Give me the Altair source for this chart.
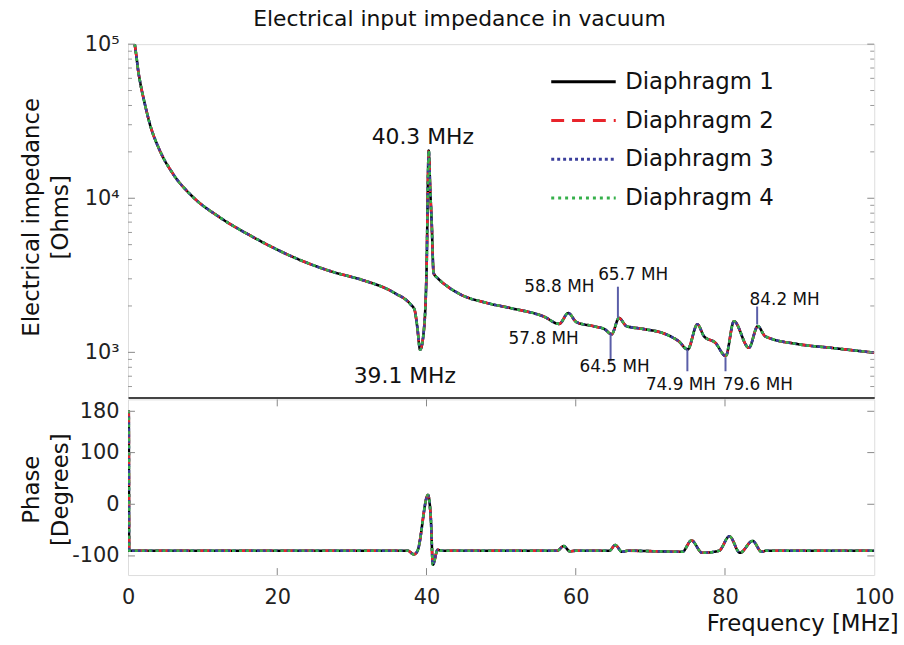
import altair as alt
import pandas as pd

# ---------------- data ----------------
series = ["Diaphragm 1", "Diaphragm 2", "Diaphragm 3", "Diaphragm 4"]
series_colors = ["#000000", "#e8242b", "#3b3f9c", "#35b04a"]
series_dash = [[1, 0], [13, 8], [3, 3], [3, 4]]

# impedance magnitude (all four diaphragms overlap in the reference)
imp_freq = [0.9, 1.15, 1.37, 1.6, 2.26, 2.93, 4.26, 6.03, 8.69, 12.2, 16.7, 22.0,
            27.5, 31.3, 35.7, 37.9, 38.4, 38.75, 39.15, 39.7, 40.0, 40.3, 40.5,
            40.7, 40.95, 41.5, 42.8, 44.6, 48.1, 51.2, 55.7, 57.8, 59.0, 60.1,
            62.3, 63.9, 64.8, 65.8, 66.8, 69.0, 72.1, 73.8, 75.0, 76.3, 77.2,
            78.7, 80.1, 81.2, 83.2, 84.4, 85.4, 89.8, 94.2, 100.0]
imp_ohm = [100000, 81600, 67000, 57600, 40800, 30300, 20400, 14400, 10200, 7570,
           5620, 4180, 3320, 2960, 2430, 2040, 1890, 1480, 1040, 1480, 3270, 20400,
           11300, 6870, 3270, 3030, 2680, 2370, 2090, 1940, 1710, 1530, 1800, 1570,
           1480, 1410, 1310, 1670, 1480, 1420, 1310, 1180, 1045, 1520, 1270, 1155,
           947, 1590, 1070, 1480, 1270, 1130, 1070, 995]

# phase
ph_freq = [0.0, 0.1, 0.15, 37.5, 38.3, 38.8, 40.2, 40.6, 40.85, 41.5, 42.0, 57.5,
           58.4, 59.2, 60.0, 64.5, 65.3, 66.2, 67.0, 74.3, 75.5, 76.95, 79.2, 80.6,
           82.0, 83.7, 84.9, 85.5, 100.0]
ph_deg = [180, 180, -90, -90, -97, -90, 18, -33, -117, -88, -90, -90,
          -81, -91, -90, -90, -79, -92, -90, -92, -70, -94, -90, -62,
          -94, -71, -92, -90, -90]

# annotations
big_labels = ["40.3 MHz", "39.1 MHz"]
big_f = [39.5, 37.1]
big_z = [24800, 700]
small_labels = ["58.8 MH", "57.8 MH", "65.7 MH", "64.5 MH", "74.9 MH", "79.6 MH", "84.2 MH"]
small_f = [57.8, 55.7, 67.7, 65.2, 74.1, 84.4, 88.0]
small_z = [2667, 1213, 3184, 800, 612, 612, 2198]
mark_f = [65.65, 64.67, 74.96, 80.07, 84.31]
mark_z1 = [2667, 1306, 1045, 929, 1983]
mark_z2 = [1683, 875, 754, 754, 1518]

# axis ticks
z_major = [1000, 10000, 100000]
z_minor = [600, 700, 800, 900, 2000, 3000, 4000, 5000, 6000, 7000, 8000, 9000,
           20000, 30000, 40000, 50000, 60000, 70000, 80000, 90000]
p_ticks = [-100, 0, 100, 180]
f_ticks = [0, 20, 40, 60, 80, 100]

FONT = "DejaVu Sans"
W, H1, H2 = 752, 356, 177

imp_df = pd.DataFrame([{"f": f, "z": z, "series": s}
                       for s in series for f, z in zip(imp_freq, imp_ohm)])
ph_df = pd.DataFrame([{"f": f, "p": p, "series": s}
                      for s in series for f, p in zip(ph_freq, ph_deg)])

xscale = alt.Scale(domain=[0, 100], nice=False, zero=False)
zscale = alt.Scale(type="log", domain=[510, 100000], nice=False)
pscale = alt.Scale(domain=[-137, 203], nice=False, zero=False)

color_enc = alt.Color("series:N", scale=alt.Scale(domain=series, range=series_colors),
                      title=None,
                      legend=alt.Legend(orient="none", legendX=425, legendY=23,
                                        symbolType="stroke", symbolSize=4225,
                                        symbolStrokeWidth=3, labelFontSize=23,
                                        labelFont=FONT, labelColor="#111",
                                        labelOffset=8, clipHeight=30, rowPadding=9,
                                        padding=0))
dash_enc = alt.StrokeDash("series:N", scale=alt.Scale(domain=series, range=series_dash),
                          title=None, legend=None)

# --------------- top panel ---------------
imp_lines = alt.Chart(imp_df).mark_line(strokeWidth=2.6, clip=True,
                                        interpolate="monotone").encode(
    x=alt.X("f:Q", scale=xscale,
            axis=alt.Axis(labels=False, ticks=False, title=None, grid=False,
                          domain=True, domainColor="#444", domainWidth=2)),
    y=alt.Y("z:Q", scale=zscale,
            axis=alt.Axis(values=z_major, grid=False, ticks=False, domain=False,
                          labelFontSize=21, labelFont=FONT, labelColor="#222",
                          labelPadding=9, labelFlush=False,
                          labelExpr="datum.value == 1000 ? '10³' : datum.value == 10000 ? '10⁴' : '10⁵'",
                          title=["Electrical impedance", "[Ohms]"],
                          titleFontSize=23, titleFont=FONT, titleFontWeight="normal",
                          titleColor="#111", titleX=-85, titleY=H1 / 2 - 4,
                          titleBaseline="bottom", titleLineHeight=29, titleAngle=-90)),
    color=color_enc,
    strokeDash=dash_enc,
)

zt_major = pd.DataFrame({"z": z_major})
zt_minor = pd.DataFrame({"z": z_minor})
ztick_l = alt.Chart(zt_major).mark_rule(color="#888", strokeWidth=1).encode(
    y=alt.Y("z:Q", scale=zscale), x=alt.value(0), x2=alt.value(7))
ztick_r = alt.Chart(zt_major).mark_rule(color="#888", strokeWidth=1).encode(
    y=alt.Y("z:Q", scale=zscale), x=alt.value(W), x2=alt.value(W - 7))
zmin_l = alt.Chart(zt_minor).mark_rule(color="#999", strokeWidth=1).encode(
    y=alt.Y("z:Q", scale=zscale), x=alt.value(0), x2=alt.value(4))
zmin_r = alt.Chart(zt_minor).mark_rule(color="#999", strokeWidth=1).encode(
    y=alt.Y("z:Q", scale=zscale), x=alt.value(W), x2=alt.value(W - 4))

big_df = pd.DataFrame({"f": big_f, "z": big_z, "label": big_labels})
small_df = pd.DataFrame({"f": small_f, "z": small_z, "label": small_labels})
mark_df = pd.DataFrame({"f": mark_f, "z": mark_z1, "z2": mark_z2})

big_txt = alt.Chart(big_df).mark_text(fontSize=22, font=FONT, color="#111",
                                      align="center", baseline="middle").encode(
    x=alt.X("f:Q", scale=xscale), y=alt.Y("z:Q", scale=zscale), text="label:N")
small_txt = alt.Chart(small_df).mark_text(fontSize=17, font=FONT, color="#111",
                                          align="center", baseline="middle").encode(
    x=alt.X("f:Q", scale=xscale), y=alt.Y("z:Q", scale=zscale), text="label:N")
mark_rules = alt.Chart(mark_df).mark_rule(color="#5a5ea8", strokeWidth=2).encode(
    x=alt.X("f:Q", scale=xscale), y=alt.Y("z:Q", scale=zscale), y2="z2:Q")

top = alt.layer(imp_lines, ztick_l, ztick_r, zmin_l, zmin_r, mark_rules,
                big_txt, small_txt).properties(width=W, height=H1)

# --------------- bottom panel ---------------
ph_lines = alt.Chart(ph_df).mark_line(strokeWidth=2.6, clip=True,
                                      interpolate="monotone").encode(
    x=alt.X("f:Q", scale=xscale,
            axis=alt.Axis(values=f_ticks, grid=False, ticks=False, domain=False,
                          labelFontSize=21, labelFont=FONT, labelColor="#222",
                          labelPadding=12, labelFlush=False, title="Frequency [MHz]",
                          titleFontSize=23, titleFont=FONT, titleFontWeight="normal",
                          titleColor="#111", titleAnchor="end", titleAlign="right",
                          titleX=W + 24, titleY=38, titleBaseline="top")),
    y=alt.Y("p:Q", scale=pscale,
            axis=alt.Axis(values=p_ticks, grid=False, ticks=False, domain=False,
                          labelFontSize=21, labelFont=FONT, labelColor="#222",
                          labelPadding=9, labelFlush=False,
                          labelExpr="replace(datum.label, '−', '-')",
                          title=["Phase", "[Degrees]"],
                          titleFontSize=23, titleFont=FONT, titleFontWeight="normal",
                          titleColor="#111", titleX=-85, titleY=H2 / 2 + 2,
                          titleBaseline="bottom", titleLineHeight=29, titleAngle=-90)),
    color=alt.Color("series:N", scale=alt.Scale(domain=series, range=series_colors),
                    legend=None),
    strokeDash=alt.StrokeDash("series:N", scale=alt.Scale(domain=series, range=series_dash),
                              legend=None),
)

pt_df = pd.DataFrame({"p": p_ticks})
ft_df = pd.DataFrame({"f": f_ticks[1:-1]})
ptick_l = alt.Chart(pt_df).mark_rule(color="#888", strokeWidth=1).encode(
    y=alt.Y("p:Q", scale=pscale), x=alt.value(0), x2=alt.value(7))
ptick_r = alt.Chart(pt_df).mark_rule(color="#888", strokeWidth=1).encode(
    y=alt.Y("p:Q", scale=pscale), x=alt.value(W), x2=alt.value(W - 7))
ftick_b = alt.Chart(ft_df).mark_rule(color="#888", strokeWidth=1).encode(
    x=alt.X("f:Q", scale=xscale), y=alt.value(H2), y2=alt.value(H2 - 7))
ftick_t = alt.Chart(ft_df).mark_rule(color="#888", strokeWidth=1).encode(
    x=alt.X("f:Q", scale=xscale), y=alt.value(0), y2=alt.value(7))

bottom = alt.layer(ph_lines, ptick_l, ptick_r, ftick_b, ftick_t).properties(width=W, height=H2)

chart = alt.vconcat(top, bottom, spacing=0).resolve_scale(
    color="independent", strokeDash="independent", x="shared"
).properties(
    title=alt.TitleParams("Electrical input impedance in vacuum", fontSize=22, font=FONT,
                          fontWeight="normal", color="#111", anchor="middle", offset=2),
    padding={"left": 20, "top": 5, "right": 5, "bottom": 5},
).configure_view(stroke="#999", strokeWidth=1.5).configure(background="white")

chart.save("out.html", embed_options={"renderer": "svg", "actions": False})
